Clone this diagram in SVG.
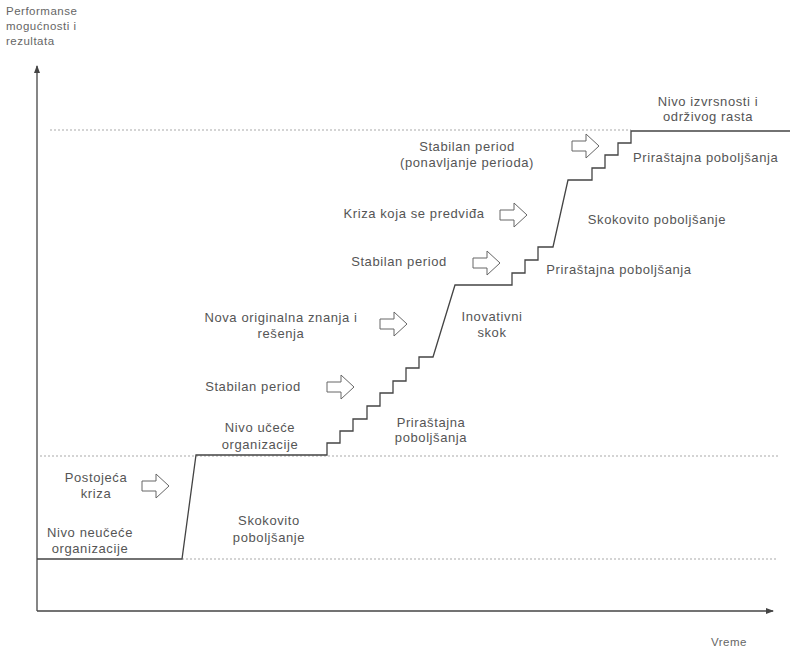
<svg xmlns="http://www.w3.org/2000/svg" width="793" height="650" viewBox="0 0 793 650">
<defs>
<style>
.t{font-family:"Liberation Sans",Arial,sans-serif;font-size:13px;letter-spacing:0.6px;fill:#555;text-anchor:middle}
.ax{font-family:"Liberation Sans",Arial,sans-serif;font-size:11.5px;letter-spacing:0.5px;fill:#666}
.dot{stroke:#aaa;stroke-width:1.2;stroke-dasharray:2 2;fill:none}
.ln{stroke:#444;stroke-width:1.3;fill:none}
.ba{fill:#fff;stroke:#666;stroke-width:1}
</style>
<path id="barrow" d="M0,-5 H14 V-12 L27,0 L14,12 V5 H0 Z"/>
<marker id="ah" markerWidth="8" markerHeight="8" refX="7" refY="4" orient="auto" markerUnits="userSpaceOnUse">
<path d="M0,1 L8,4 L0,7 Z" fill="#444"/>
</marker>
</defs>
<rect width="793" height="650" fill="#fff"/>
<g id="guides">
<line class="dot" x1="182" y1="559" x2="776" y2="559"/>
<line class="dot" x1="40" y1="456" x2="778" y2="456"/>
<line class="dot" x1="50" y1="130" x2="631" y2="130"/>
</g>
<g id="connectors">
<line class="ln" x1="37" y1="611" x2="37" y2="66" marker-end="url(#ah)"/>
<line class="ln" x1="37" y1="611" x2="773" y2="611" marker-end="url(#ah)"/>
<path id="curve" class="ln" d="M37,559 H182 L196,455 H327 V443 H340 V431 H353 V419 H367 V406 H380 V393 H393 V381 H406 V368 H419 V357 H433 L455,285 H512 V273 H525 V260 H538 V247 H553 L568,180 H592 V168 H605 V155 H618 V143 H631 V131 H790"/>
</g>
<g id="arrows">
<use id="arrow-postojeca" href="#barrow" class="ba" x="142" y="486"/>
<use id="arrow-stabilan1" href="#barrow" class="ba" x="327" y="387"/>
<use id="arrow-nova" href="#barrow" class="ba" x="380" y="324"/>
<use id="arrow-stabilan2" href="#barrow" class="ba" x="473" y="263"/>
<use id="arrow-kriza" href="#barrow" class="ba" x="500" y="215"/>
<use id="arrow-stabilan3" href="#barrow" class="ba" x="572" y="146"/>
</g>
<g id="axis-y-label"><text class="ax" x="6" y="15">Performanse</text><text class="ax" x="6" y="30">mogućnosti  i</text><text class="ax" x="6" y="45">rezultata</text></g>
<g id="axis-x-label"><text class="ax" x="711" y="646">Vreme</text></g>
<g id="n-izvrsnost"><text class="t" x="708" y="106">Nivo izvrsnosti i</text><text class="t" x="708" y="121">održivog rasta</text></g>
<g id="n-stabilan3"><text class="t" x="467" y="151">Stabilan period</text><text class="t" x="467" y="167">(ponavljanje perioda)</text></g>
<g id="n-prir3"><text class="t" x="633" y="162" style="text-anchor:start">Priraštajna poboljšanja</text></g>
<g id="n-skok2"><text class="t" x="657" y="224">Skokovito poboljšanje</text></g>
<g id="n-kriza2"><text class="t" x="414" y="218">Kriza koja se predviđa</text></g>
<g id="n-stabilan2"><text class="t" x="399" y="266">Stabilan period</text></g>
<g id="n-prir2"><text class="t" x="619" y="274">Priraštajna poboljšanja</text></g>
<g id="n-nova"><text class="t" x="281" y="322">Nova originalna znanja i</text><text class="t" x="281" y="338">rešenja</text></g>
<g id="n-inov"><text class="t" x="492" y="321">Inovativni</text><text class="t" x="492" y="337">skok</text></g>
<g id="n-stabilan1"><text class="t" x="253" y="391">Stabilan period</text></g>
<g id="n-prir1"><text class="t" x="431" y="427">Priraštajna</text><text class="t" x="431" y="442">poboljšanja</text></g>
<g id="n-ucece"><text class="t" x="260" y="432">Nivo učeće</text><text class="t" x="260" y="449">organizacije</text></g>
<g id="n-postojeca"><text class="t" x="96" y="482">Postojeća</text><text class="t" x="96" y="498">kriza</text></g>
<g id="n-neucece"><text class="t" x="90" y="537">Nivo neučeće</text><text class="t" x="90" y="553">organizacije</text></g>
<g id="n-skok1"><text class="t" x="269" y="525">Skokovito</text><text class="t" x="269" y="542">poboljšanje</text></g>
</svg>
